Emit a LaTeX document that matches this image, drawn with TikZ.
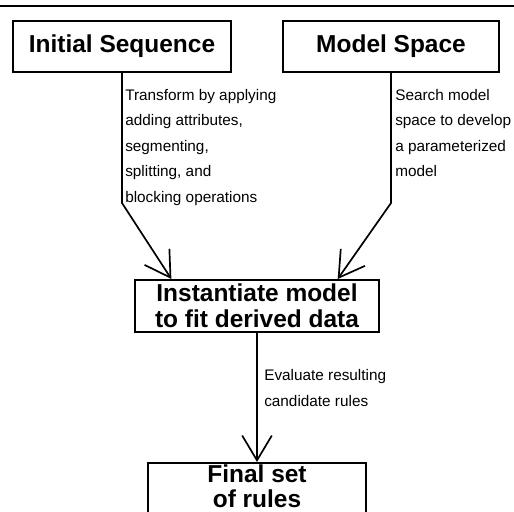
\documentclass[tikz,border=0pt]{standalone}
\usepackage{fontspec}
\setmainfont{Liberation Sans}
\usepackage{tikz}
\usetikzlibrary{positioning,calc,arrows.meta}

\newcommand{\boxtextfont}{\fontsize{17.4}{18.8}\selectfont\bfseries}
\newcommand{\notetextfont}{\fontsize{10.9}{18.1}\selectfont}

\begin{document}
\begin{tikzpicture}[x=0.025cm, y=-0.025cm,
    box/.style={draw, line width=1.4pt, font=\boxtextfont, align=center, inner ysep=1pt},
    note/.style={font=\notetextfont, align=left, anchor=north west, inner sep=0pt},
    flow/.style={line width=1.2pt, -{Straight Barb[length=0.62cm, width=0.74cm]}}]
    \useasboundingbox (0,0) rectangle (514,512);
    \draw [line width=1.4pt] (0,6) -- (514,6); % top rule

    % Boxes
    \node [box, minimum width=5.45cm, minimum height=1.275cm] (init) at (122,46.5) {Initial Sequence};
    \node [box, minimum width=5.4cm, minimum height=1.275cm] (space) at (391,46.5) {Model Space};
    \node [box, minimum width=6.1cm, minimum height=1.3cm] (inst) at (257,306) {Instantiate model\\to fit derived data};
    \node [box, minimum width=5.425cm, anchor=north, inner ysep=1.2pt, text depth=1.5cm,
           font=\fontsize{17.4}{17.9}\selectfont\bfseries] (final) at (257,462) {Final set\\of rules}; % runs off the page

    % Connectors
    \draw [flow] (init.south) -- (init.south |- 0,203) -- ($(inst.north west)!0.152!(inst.north east)$);
    \draw [flow] (space.south) -- (space.south |- 0,203) -- ($(inst.north west)!0.828!(inst.north east)$);
    \draw [flow] (inst.south) -- (final.north);

    % Notes
    \node [note] (transform) at (125,89) {Transform by applying\\adding attributes,\\segmenting,\\splitting, and\\blocking operations};
    \node [note] (search) at (395,89) {Search model\\space to develop\\a parameterized\\model};
    \node [note] (evaluate) at (264,369.5) {Evaluate resulting\\candidate rules};
\end{tikzpicture}
\end{document}
